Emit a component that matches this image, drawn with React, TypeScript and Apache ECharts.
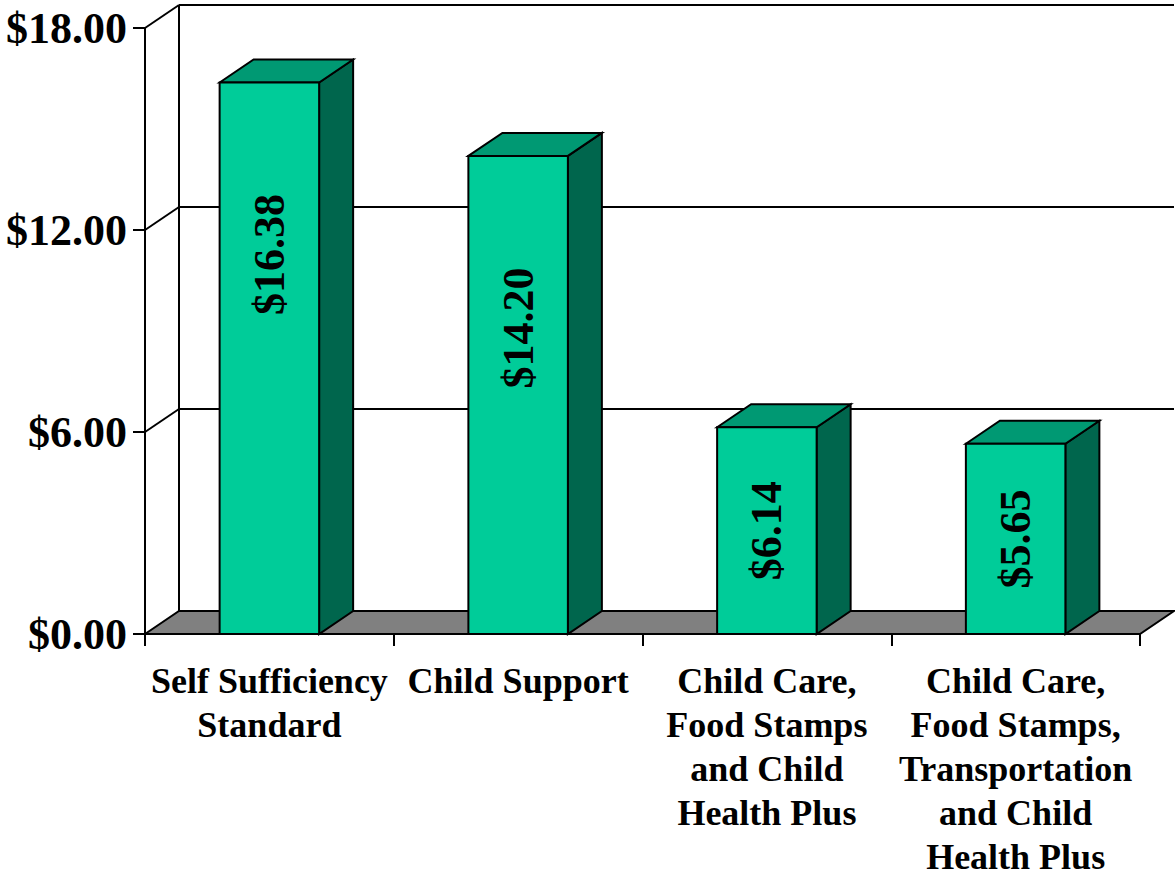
import React, { useEffect, useRef } from "react";
import * as echarts from "echarts";

const categories = [
  "Self Sufficiency\nStandard",
  "Child Support",
  "Child Care,\nFood Stamps\nand Child\nHealth Plus",
  "Child Care,\nFood Stamps,\nTransportation\nand Child\nHealth Plus",
];
const values = [16.38, 14.2, 6.14, 5.65];
const yTicks = [0, 6, 12, 18];

const DX = 34;
const DY = 23;
const FONT = "'Liberation Serif', 'Times New Roman', serif";
const LINE = { stroke: "#000", lineWidth: 2 };

export default function App() {
  const ref = useRef<HTMLDivElement>(null);
  useEffect(() => {
    document.body.style.margin = "0";
    const chart = echarts.init(ref.current!, null, { renderer: "svg" });
    const fmt = (v: number) => "$" + v.toFixed(2);
    chart.setOption({
      animation: false,
      grid: { left: 145, right: 35, top: 28, bottom: 244 },
      xAxis: {
        type: "category",
        data: categories,
        axisLine: { show: true, lineStyle: { color: "#000", width: 2 } },
        axisTick: { show: true, length: 12, lineStyle: { color: "#000", width: 2 } },
        axisLabel: {
          interval: 0,
          margin: 25,
          color: "#000",
          fontFamily: FONT,
          fontWeight: "bold",
          fontSize: 36,
          lineHeight: 44,
          align: "center",
        },
      },
      yAxis: {
        type: "value",
        min: yTicks[0],
        max: yTicks[yTicks.length - 1],
        interval: yTicks[1] - yTicks[0],
        splitLine: { show: false },
        axisLine: { show: true, lineStyle: { color: "#000", width: 2 } },
        axisTick: { show: true, length: 12, lineStyle: { color: "#000", width: 2 } },
        axisLabel: {
          margin: 18,
          color: "#000",
          fontFamily: FONT,
          fontWeight: "bold",
          fontSize: 44,
          formatter: (v: number) => fmt(v),
        },
      },
      series: [
        {
          type: "custom",
          z: 1,
          silent: true,
          data: [[0, 0]],
          renderItem: (params: any, api: any) => {
            const cs = params.coordSys;
            const x0 = cs.x;
            const x1 = cs.x + cs.width;
            const y0 = api.coord([0, 0])[1];
            const yTop = api.coord([0, yTicks[yTicks.length - 1]])[1];
            const children: any[] = [];
            children.push({
              type: "polygon",
              shape: {
                points: [
                  [x0, y0],
                  [x0 + DX, y0 - DY],
                  [x1 + DX, y0 - DY],
                  [x1, y0],
                ],
              },
              style: { fill: "#808080", ...LINE },
            });
            children.push({
              type: "line",
              shape: { x1: x0 + DX, y1: yTop - DY, x2: x0 + DX, y2: y0 - DY },
              style: LINE,
            });
            yTicks.slice(1).forEach((t) => {
              const y = api.coord([0, t])[1];
              children.push({
                type: "line",
                shape: { x1: x0, y1: y, x2: x0 + DX, y2: y - DY },
                style: LINE,
              });
              children.push({
                type: "line",
                shape: { x1: x0 + DX, y1: y - DY, x2: x1 + DX, y2: y - DY },
                style: LINE,
              });
            });
            return { type: "group", children };
          },
        },
        {
          type: "custom",
          z: 3,
          silent: true,
          data: values.map((v, i) => [i, v]),
          renderItem: (params: any, api: any) => {
            const i = api.value(0);
            const v = api.value(1);
            const [cx, yT] = api.coord([i, v]);
            const yB = api.coord([i, 0])[1];
            const band = api.size([1, 0])[0];
            const w = band * 0.4;
            const xl = cx - w / 2;
            const xr = cx + w / 2;
            const mid = (yT + yB) / 2;
            const ly = Math.min(mid, yT + 172);
            return {
              type: "group",
              children: [
                {
                  type: "polygon",
                  shape: {
                    points: [
                      [xr, yT],
                      [xr + DX, yT - DY],
                      [xr + DX, yB - DY],
                      [xr, yB],
                    ],
                  },
                  style: { fill: "#00664D", ...LINE },
                },
                {
                  type: "polygon",
                  shape: {
                    points: [
                      [xl, yT],
                      [xl + DX, yT - DY],
                      [xr + DX, yT - DY],
                      [xr, yT],
                    ],
                  },
                  style: { fill: "#009973", ...LINE },
                },
                {
                  type: "rect",
                  shape: { x: xl, y: yT, width: w, height: yB - yT },
                  style: { fill: "#00CC99", ...LINE },
                },
                {
                  type: "text",
                  x: cx,
                  y: ly,
                  rotation: Math.PI / 2,
                  style: {
                    text: fmt(v),
                    fill: "#000",
                    fontFamily: FONT,
                    fontWeight: "bold",
                    fontSize: 44,
                    align: "center",
                    verticalAlign: "middle",
                  },
                },
              ],
            };
          },
        },
      ],
    });
    return () => chart.dispose();
  }, []);
  return <div ref={ref} style={{ width: 1175, height: 879 }} />;
}
